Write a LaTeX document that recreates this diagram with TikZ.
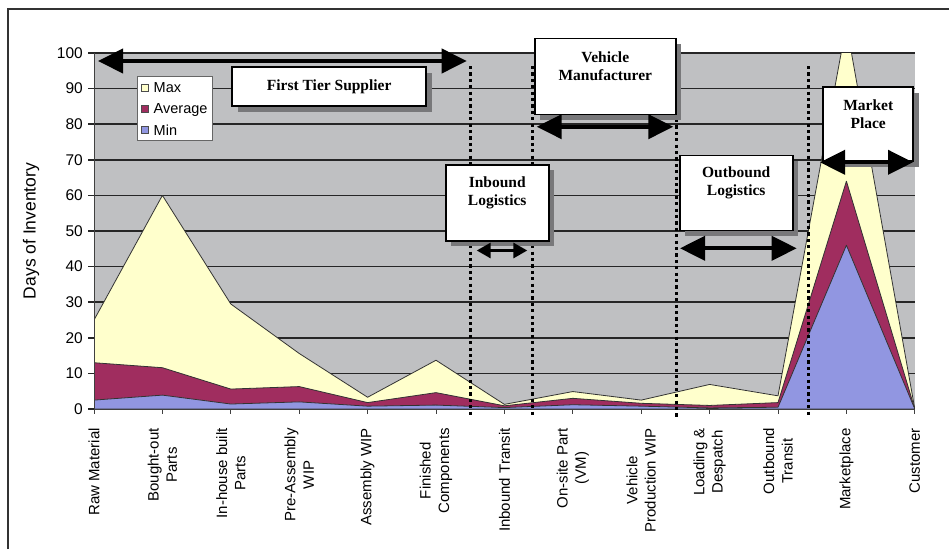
\documentclass[tikz,border=0pt]{standalone}
\usepackage{fontspec}
\setmainfont{Liberation Serif}
\newfontfamily\arialf{Liberation Sans}
\usetikzlibrary{arrows.meta,shadows}
\definecolor{plotgray}{RGB}{191,192,194}
\definecolor{maxc}{RGB}{255,255,204}
\definecolor{avgc}{RGB}{160,45,95}
\definecolor{minc}{RGB}{145,150,225}
\definecolor{framec}{RGB}{50,50,50}
\definecolor{shadowc}{RGB}{120,120,122}
\tikzset{
  gridln/.style={line width=1.6pt, black!85},
  areaedge/.style={draw=black!80, line width=0.8pt, line join=round},
  divider/.style={line width=3pt, dash pattern=on 3.2pt off 3.2pt, black},
  stagebox/.style={draw=black, line width=1.8pt, fill=white,
    drop shadow={shadow xshift=5.5pt, shadow yshift=-5.5pt, fill=shadowc, opacity=1}, inner sep=0pt},
  stagetext/.style={font=\bfseries\fontsize{15.5}{18}\selectfont, align=center, inner sep=0pt},
  bigspan/.style={line width=4pt, {Triangle[length=25pt,width=24pt]}-{Triangle[length=25pt,width=24pt]}},
  smallspan/.style={line width=3pt, {Triangle[length=14pt,width=15pt]}-{Triangle[length=14pt,width=15pt]}},
  ticklab/.style={font=\arialf\fontsize{15.5}{18}\selectfont, anchor=east, inner sep=0pt},
  catlab/.style={font=\arialf\fontsize{15}{18.3}\selectfont, rotate=90, anchor=east, align=center, inner sep=0pt},
  legtext/.style={font=\arialf\fontsize{14.5}{17}\selectfont, anchor=base west, inner sep=0pt},
  legmark/.style={draw=black!70, line width=0.6pt, minimum size=7pt, inner sep=0pt},
}
\begin{document}
\begin{tikzpicture}[x=1pt,y=-1pt]
\useasboundingbox (0,0) rectangle (949,549);
\fill[white] (0,0) rectangle (949,549);
\draw[framec, line width=1.5pt] (8,549) -- (8,9) -- (949,9);
% plot area
\fill[plotgray] (94,53) rectangle (915,409);
\foreach \v in {10,20,...,100} \draw[gridln] (88,{409-3.56*\v}) -- (915,{409-3.56*\v});
\draw[gridln] (88,409) -- (94,409);
% data areas
\begin{scope}[shift={(94,409)}, x=68.4pt, y=3.56pt]
  \clip (0,0) rectangle (12,100);
  \filldraw[areaedge, fill=maxc] (0,0) -- (0,25) -- (1,60) -- (2,29.5) -- (3,15.6) -- (4,3.3) -- (5,13.7) -- (6,1.3) -- (7,4.9) -- (8,2.5) -- (9,6.9) -- (10,3.7) -- (11,108) -- (12,0) -- cycle;
  \filldraw[areaedge, fill=avgc] (0,0) -- (0,13) -- (1,11.6) -- (2,5.6) -- (3,6.3) -- (4,1.8) -- (5,4.6) -- (6,0.9) -- (7,3.0) -- (8,1.6) -- (9,1.0) -- (10,1.8) -- (11,64) -- (12,0) -- cycle;
  \filldraw[areaedge, fill=minc] (0,0) -- (0,2.5) -- (1,3.9) -- (2,1.4) -- (3,2.0) -- (4,0.8) -- (5,1.1) -- (6,0.4) -- (7,1.2) -- (8,0.8) -- (9,0.3) -- (10,0.5) -- (11,46) -- (12,0) -- cycle;
\end{scope}
% axes
\draw[black!75, line width=1pt] (94,53) -- (94,409) -- (915,409);
\foreach \i in {0,...,12} \draw[black!75, line width=1pt] ({94+68.4*\i},409) -- ++(0,5);
% y tick labels
\foreach \v in {0,10,...,100} \node[ticklab] (yt\v) at (83,{409-3.56*\v}) {\v};
\node[font=\arialf\fontsize{17.5}{20}\selectfont, rotate=90, inner sep=0pt] (ylab) at (31,231) {Days of Inventory};
% category labels
\foreach \lab [count=\i from 0] in {Raw Material, {Bought-out\\Parts}, {In-house built\\Parts}, {Pre-Assembly\\WIP}, Assembly WIP, {Finished\\Components}, Inbound Transit, {On-site Part\\(VM)}, {Vehicle\\Production WIP}, {Loading \&\\Despatch}, {Outbound\\Transit}, Marketplace, Customer}
  \node[catlab] (cat\i) at ({94+68.4*\i},428) {\lab};
% dividers
\coordinate (d1t) at (470,66);  \coordinate (d1b) at (470,417);
\coordinate (d2t) at (532,66);  \coordinate (d2b) at (532,417);
\coordinate (d3t) at (676,119); \coordinate (d3b) at (676,417);
\coordinate (d4t) at (808,66);  \coordinate (d4b) at (808,417);
\draw[divider] (d1t) -- (d1b);
\draw[divider] (d2t) -- (d2b);
\draw[divider] (d3t) -- (d3b);
\draw[divider] (d4t) -- (d4b);
% stage boxes
\node[stagebox, minimum width=194pt, minimum height=39pt] (fts) at (329.2,86.7) {};
\node[stagetext] (ftst) at (fts.center) {First Tier Supplier};
\node[stagebox, minimum width=103pt, minimum height=76pt] (ibl) at (497.2,202.9) {};
\node[stagetext] (iblt) at ([yshift=10pt]ibl.center) {Inbound\\Logistics};
\node[stagebox, minimum width=141pt, minimum height=76pt] (vm) at (605.3,76.4) {};
\node[stagetext] (vmt) at ([yshift=10pt]vm.center) {Vehicle\\Manufacturer};
\node[stagebox, minimum width=113pt, minimum height=75pt] (obl) at (736.2,193) {};
\node[stagetext] (oblt) at ([yshift=10pt]obl.center) {Outbound\\Logistics};
\node[stagebox, minimum width=90pt, minimum height=74pt] (mp) at (868.2,124.2) {};
\node[stagetext] (mpt) at ([yshift=10pt]mp.center) {Market\\Place};
% span arrows
\coordinate (a1l) at (98,61);      \coordinate (a1r) at (466.7,61);
\coordinate (a2l) at (476.7,250.5); \coordinate (a2r) at (527.3,250.5);
\coordinate (a3l) at (536.7,126.7); \coordinate (a3r) at (673.3,126.7);
\coordinate (a4l) at (680,248.3);  \coordinate (a4r) at (796.7,248.3);
\coordinate (a5l) at (820,162.3);  \coordinate (a5r) at (913,162.3);
\draw[bigspan] (a1l) -- (a1r);
\draw[smallspan] (a2l) -- (a2r);
\draw[bigspan] (a3l) -- (a3r);
\draw[bigspan] (a4l) -- (a4r);
\draw[bigspan] (a5l) -- (a5r);
% legend
\node[draw=black!60, line width=0.6pt, fill=white, minimum width=75pt, minimum height=64pt, inner sep=0pt] (leg) at (174.5,107.9) {};
\node[legmark, fill=maxc] (lm1) at (145,87.5) {};
\node[legmark, fill=avgc] (lm2) at (145,108.5) {};
\node[legmark, fill=minc] (lm3) at (145,130) {};
\node[legtext] (lt1) at (153.5,92.7) {Max};
\node[legtext] (lt2) at (153.5,113.5) {Average};
\node[legtext] (lt3) at (153.5,135) {Min};
\end{tikzpicture}
\end{document}
